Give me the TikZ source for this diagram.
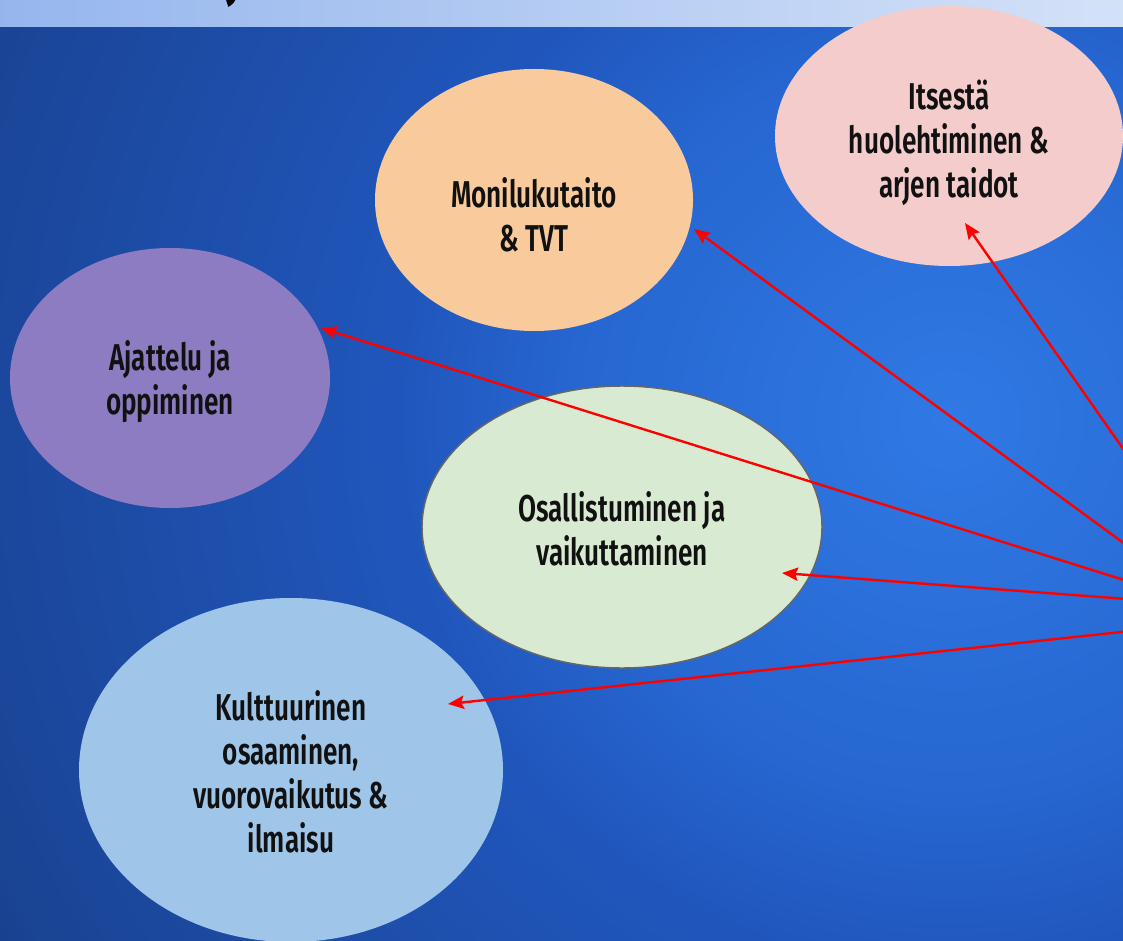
\documentclass[tikz,border=0pt]{standalone}
\usepackage{fontspec}
\newfontfamily\lblfont{Fira Sans SemiBold}[FakeStretch=0.7]
\newfontfamily\ttlfont{Fira Sans}[FakeStretch=0.7]
\usetikzlibrary{arrows.meta,shapes.geometric}
\definecolor{bgA}{HTML}{3079E5}
\definecolor{bgB}{HTML}{2666D0}
\definecolor{bgC}{HTML}{2056BC}
\definecolor{bgD}{HTML}{1A4494}
\definecolor{bgE}{HTML}{173D8A}
\definecolor{hdrA}{HTML}{76A0E8}
\definecolor{hdrB}{HTML}{DAE6F9}
\definecolor{hdrC}{HTML}{C9DAF6}
\definecolor{pinkE}{HTML}{F4CCCC}
\definecolor{orangeE}{HTML}{F9CB9C}
\definecolor{purpleE}{HTML}{8E7CC3}
\definecolor{greenE}{HTML}{D9EAD3}
\definecolor{blueE}{HTML}{9FC5E8}
\definecolor{edgeG}{HTML}{666666}
\definecolor{inkC}{HTML}{111111}
\pgfdeclarehorizontalshading{hdr}{100bp}{color(0bp)=(hdrA); color(80bp)=(hdrB); color(100bp)=(hdrC)}
\pgfdeclareradialshading{bgshade}{\pgfpoint{0bp}{0bp}}{color(0bp)=(bgA); color(8.5bp)=(bgB); color(12.3bp)=(bgC); color(23.4bp)=(bgD); color(25bp)=(bgE); color(50bp)=(bgE)}
\begin{document}
\begin{tikzpicture}[x=0.75pt,y=-0.75pt,
  blob/.style={ellipse, inner sep=0pt, draw=none},
  lbl/.style={font=\lblfont\fontsize{28}{33}\selectfont, text=inkC, align=center, inner sep=0pt},
  link/.style={draw=red, line width=1.8pt, -{Stealth[length=12pt,width=10pt,inset=2pt]}}]
\useasboundingbox (0,0) rectangle (1123,941);
\clip (0,0) rectangle (1123,941);
% background
\fill[bgE] (0,0) rectangle (1123,941);
\shade[shading=bgshade] (950,420) circle (1120);
\shade[shading=hdr] (0,0) rectangle (1123,27);
\node[font=\ttlfont\bfseries\fontsize{44}{46}\selectfont, text=black, anchor=base west, inner sep=0pt] (ttl) at (228,-5) {j};
% ellipses
\node[blob, fill=pinkE, minimum width={348*0.75pt}, minimum height={260*0.75pt}] (itse) at (949,136) {};
\node[blob, fill=orangeE, minimum width={318*0.75pt}, minimum height={262*0.75pt}] (moni) at (534,200) {};
\node[blob, fill=purpleE, minimum width={320*0.75pt}, minimum height={260*0.75pt}] (ajat) at (170,378) {};
\node[blob, fill=greenE, draw=edgeG, line width=1.1pt, minimum width={400*0.75pt}, minimum height={282*0.75pt}] (osal) at (622,527) {};
\node[blob, fill=blueE, minimum width={424*0.75pt}, minimum height={344*0.75pt}] (kult) at (291,770) {};
% texts
\node[lbl] (itseT) at (949,143) {Itsestä\\huolehtiminen \&\\arjen taidot};
\node[lbl] (moniT) at (534,215) {Monilukutaito\\\& TVT};
\node[lbl] (ajatT) at (170,382) {Ajattelu ja\\oppiminen};
\node[lbl] (osalT) at (622,529) {Osallistuminen ja\\vaikuttaminen};
\node[lbl] (kultT) at (291,772) {Kulttuurinen\\osaaminen,\\vuorovaikutus \&\\ilmaisu};
% arrow origins (off the right edge)
\coordinate (s1) at (1140,473);
\coordinate (s2) at (1140,555);
\coordinate (s3) at (1140,585);
\coordinate (s4) at (1140,600);
\coordinate (s5) at (1140,630);
\draw[link] (s1) -- ([shift={(16,87)}]itse.center);
\draw[link] (s2) -- ([shift={(160,29)}]moni.center);
\draw[link] (s3) -- ([shift={(151,-50)}]ajat.center);
\draw[link] (s4) -- ([shift={(160,46)}]osal.center);
\draw[link] (s5) -- ([shift={(157,-66)}]kult.center);
\end{tikzpicture}
\end{document}
